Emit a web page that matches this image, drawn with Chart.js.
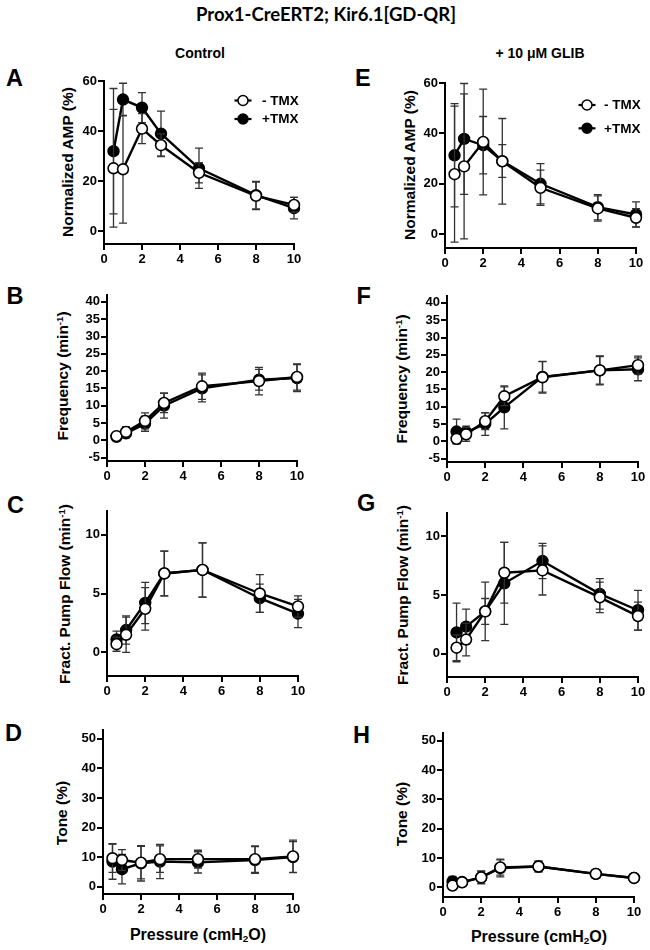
<!DOCTYPE html>
<html>
<head>
<meta charset="utf-8">
<script src="https://cdn.jsdelivr.net/npm/chart.js@4.4.1/dist/chart.umd.min.js"></script>
<style>
  html, body { margin: 0; padding: 0; background: #fff; }
  body { position: relative; width: 650px; height: 950px; overflow: hidden;
         font-family: 'Liberation Sans', Arial, sans-serif; color: #000; }
  canvas { position: absolute; }
  .txt { position: absolute; font-weight: bold; white-space: nowrap; line-height: 1; }
  .ctr { transform: translateX(-50%); }
  .letter { font-size: 23.5px; }
  .yt { position: absolute; font-weight: bold; font-size: 15.5px; white-space: nowrap; line-height: 1;
        transform: translate(-50%, -50%) rotate(-90deg); }
  .xt { position: absolute; font-weight: bold; font-size: 16px; white-space: nowrap; line-height: 1;
        transform: translate(-50%, -50%); }
  sup { font-size: 0.62em; vertical-align: 0.55em; line-height: 0; }
  sub { font-size: 0.62em; vertical-align: -0.25em; line-height: 0; }
</style>
</head>
<body>

<div class="txt ctr" style="left:326px; top:5px; font-family: Lato, 'Open Sans', sans-serif; font-size:18.5px;">Prox1-CreERT2; Kir6.1[GD-QR]</div>
<div class="txt ctr" style="left:200px; top:46px; font-size:14px;">Control</div>
<div class="txt ctr" style="left:540px; top:46px; font-size:14px;">+ 10 μM GLIB</div>

<div class="txt letter" style="left:6px; top:67px;">A</div>
<div class="txt letter" style="left:6.5px; top:285px;">B</div>
<div class="txt letter" style="left:7px; top:494px;">C</div>
<div class="txt letter" style="left:5px; top:722px;">D</div>
<div class="txt letter" style="left:355px; top:67px;">E</div>
<div class="txt letter" style="left:356.5px; top:285px;">F</div>
<div class="txt letter" style="left:357px; top:492px;">G</div>
<div class="txt letter" style="left:353px; top:724px;">H</div>

<div class="yt" style="left:68px; top:162px;">Normalized AMP (%)</div>
<div class="yt" style="left:63px; top:376px;">Frequency (min<sup>-1</sup>)</div>
<div class="yt" style="left:65px; top:594px;">Fract. Pump Flow (min<sup>-1</sup>)</div>
<div class="yt" style="left:62px; top:813px;">Tone (%)</div>
<div class="yt" style="left:410px; top:165px;">Normalized AMP (%)</div>
<div class="yt" style="left:402px; top:379px;">Frequency (min<sup>-1</sup>)</div>
<div class="yt" style="left:403px; top:595px;">Fract. Pump Flow (min<sup>-1</sup>)</div>
<div class="yt" style="left:402px; top:814px;">Tone (%)</div>

<div class="xt" style="left:198px; top:935px;">Pressure (cmH<sub>2</sub>O)</div>
<div class="xt" style="left:539px; top:937px;">Pressure (cmH<sub>2</sub>O)</div>

<script>
/* ── datos (media ± error) ─────────────────────────────────────────── */
const pressure   = [0.5, 1, 2, 3, 5, 8, 10];
const seriesNames = ['- TMX', '+TMX'];

// tick labels
const xTicks    = [0, 2, 4, 6, 8, 10];
const ampTicks  = [0, 20, 40, 60];
const freqTicks = [-5, 0, 5, 10, 15, 20, 25, 30, 35, 40];
const flowTicks = [0, 5, 10];
const toneTicks = [0, 10, 20, 30, 40, 50];

// A: amplitud, control
const ampCtrlNeg    = [25.2, 24.8, 41.0, 34.4, 23.4, 14.2, 10.6];
const ampCtrlNegErr = [23.5, 21.5, 6.0, 4.5, 4.0, 5.5, 3.0];
const ampCtrlPos    = [32.0, 52.6, 49.4, 39.0, 25.2, 14.5, 9.3];
const ampCtrlPosErr = [25.0, 6.5, 6.0, 9.0, 8.0, 5.5, 4.3];

// B: frecuencia, control
const freqCtrlNeg    = [1.2, 2.4, 5.6, 10.8, 15.6, 17.1, 18.3];
const freqCtrlNegErr = [0.6, 1.5, 2.3, 2.8, 3.8, 4.0, 3.8];
const freqCtrlPos    = [1.0, 2.0, 4.8, 10.0, 15.0, 17.5, 18.0];
const freqCtrlPosErr = [0.5, 1.3, 2.2, 3.6, 3.9, 3.0, 3.9];

// C: flujo de bombeo, control
const flowCtrlNeg    = [0.7, 1.5, 3.7, 6.7, 7.0, 5.0, 3.9];
const flowCtrlNegErr = [0.6, 1.5, 1.8, 1.9, 2.3, 1.6, 0.9];
const flowCtrlPos    = [1.1, 1.9, 4.2, 6.7, 7.0, 4.6, 3.3];
const flowCtrlPosErr = [0.7, 1.2, 1.75, 1.9, 2.3, 1.2, 1.2];

// D: tono, control
const toneCtrlNeg    = [9.6, 9.0, 8.1, 9.3, 9.3, 9.3, 10.2];
const toneCtrlNegErr = [4.8, 3.5, 5.5, 4.5, 3.0, 4.5, 5.5];
const toneCtrlPos    = [8.5, 5.9, 7.9, 8.5, 8.2, 9.0, 10.0];
const toneCtrlPosErr = [6.0, 5.0, 6.0, 5.8, 3.6, 4.5, 5.2];

// E: amplitud, GLIB
const ampGlibNeg    = [23.8, 26.9, 36.6, 28.9, 18.4, 10.2, 6.5];
const ampGlibNegErr = [27.0, 28.8, 21.0, 17.0, 7.0, 5.0, 3.6];
const ampGlibPos    = [31.3, 37.8, 35.3, 29.0, 20.0, 10.7, 7.8];
const ampGlibPosErr = [20.5, 22.0, 11.4, 6.5, 8.0, 5.0, 5.0];

// F: frecuencia, GLIB
const freqGlibNeg    = [0.7, 2.0, 5.8, 13.0, 18.5, 20.5, 22.0];
const freqGlibNegErr = [1.3, 2.0, 2.4, 2.7, 4.6, 4.0, 2.6];
const freqGlibPos    = [2.8, 2.6, 5.0, 9.8, 18.6, 20.5, 20.8];
const freqGlibPosErr = [3.6, 1.8, 3.3, 6.2, 4.4, 4.2, 3.3];

// G: flujo de bombeo, GLIB
const flowGlibNeg    = [0.5, 1.2, 3.6, 6.9, 7.1, 4.8, 3.2];
const flowGlibNegErr = [1.1, 1.4, 1.1, 2.6, 2.1, 1.3, 1.2];
const flowGlibPos    = [1.8, 2.3, 3.6, 6.0, 7.9, 5.1, 3.7];
const flowGlibPosErr = [2.5, 1.5, 2.5, 3.5, 1.5, 1.3, 1.7];

// H: tono, GLIB
const toneGlibNeg    = [0.6, 1.7, 3.4, 6.8, 7.1, 4.6, 3.2];
const toneGlibNegErr = [1.0, 1.0, 2.2, 2.6, 1.8, 1.3, 1.0];
const toneGlibPos    = [2.0, 1.8, 3.4, 6.6, 7.1, 4.6, 3.2];
const toneGlibPosErr = [1.7, 1.0, 2.0, 3.0, 1.8, 1.2, 1.0];

/* ── plugins: barras de error y leyenda con símbolo ────────────────── */
const FONT = "'Liberation Sans', Arial, sans-serif";

const errorBars = {
  id: 'errorBars',
  beforeDatasetDraw(chart, args) {
    const ds = chart.data.datasets[args.index];
    if (!ds.errors) return;
    const ctx = chart.ctx, y = chart.scales.y;
    ctx.save();
    ctx.strokeStyle = '#333';
    ctx.lineWidth = 1.3;
    args.meta.data.forEach((pt, i) => {
      const v = ds.data[i].y, e = ds.errors[i];
      const yTop = y.getPixelForValue(v + e), yBot = y.getPixelForValue(v - e);
      ctx.beginPath();
      ctx.moveTo(pt.x, yTop); ctx.lineTo(pt.x, yBot);
      ctx.moveTo(pt.x - 4, yTop); ctx.lineTo(pt.x + 4, yTop);
      ctx.moveTo(pt.x - 4, yBot); ctx.lineTo(pt.x + 4, yBot);
      ctx.stroke();
    });
    ctx.restore();
  }
};

const symLegend = {
  id: 'symLegend',
  afterDatasetsDraw(chart, args, opts) {
    if (!opts || !opts.show) return;
    const { ctx, chartArea } = chart;
    chart.data.datasets.forEach((ds, i) => {
      const cx = chartArea.right - opts.right;
      const cy = chartArea.top + opts.top + i * opts.gap;
      ctx.save();
      ctx.strokeStyle = '#000';
      ctx.lineWidth = 2.2;
      ctx.beginPath(); ctx.moveTo(cx - 8.5, cy); ctx.lineTo(cx + 8.5, cy); ctx.stroke();
      ctx.beginPath(); ctx.arc(cx, cy, 5, 0, Math.PI * 2);
      ctx.fillStyle = ds.pointBackgroundColor; ctx.fill();
      ctx.lineWidth = 1.5; ctx.stroke();
      ctx.fillStyle = '#000';
      ctx.font = 'bold 13.5px ' + FONT;
      ctx.textBaseline = 'middle';
      ctx.fillText(ds.label, cx + opts.textDx, cy + 0.5);
      ctx.restore();
    });
  }
};

function pts(vals) { return pressure.map((p, i) => ({ x: p, y: vals[i] })); }

function series(neg, negErr, pos, posErr) {
  const base = { borderColor: '#000', borderWidth: 2.4, pointRadius: 5.4, pointHoverRadius: 5.4,
                 pointBorderColor: '#000', pointBorderWidth: 1.6, tension: 0, clip: false };
  // '- TMX' primero para que quede encima
  return [
    Object.assign({}, base, { label: seriesNames[0], data: pts(neg), errors: negErr, pointBackgroundColor: '#fff' }),
    Object.assign({}, base, { label: seriesNames[1], data: pts(pos), errors: posErr, pointBackgroundColor: '#000' }),
  ];
}

/* ── paneles: área del gráfico [izq, der, arriba, abajo] en px de página ── */
const PAD_L = 40, PAD_T = 10, PAD_R = 14, PAD_B = 30;

function axisCommon() {
  return {
    grid:   { drawOnChartArea: false, drawTicks: true, tickLength: 6, color: '#000', lineWidth: 2 },
    border: { display: true, color: '#000', width: 2 },
  };
}

function makePanel(p) {
  const [L, R, T, B] = p.area;
  const w = (R - L) + PAD_L + PAD_R, h = (B - T) + PAD_T + PAD_B;
  const cv = document.createElement('canvas');
  cv.width = w; cv.height = h;
  cv.style.left = (L - PAD_L) + 'px'; cv.style.top = (T - PAD_T) + 'px';
  cv.style.width = w + 'px'; cv.style.height = h + 'px';
  document.body.appendChild(cv);

  new Chart(cv.getContext('2d'), {
    type: 'line',
    data: { datasets: p.datasets },
    plugins: [errorBars, symLegend],
    options: {
      responsive: false,
      animation: false,
      devicePixelRatio: 1,
      layout: { padding: { left: 0, top: PAD_T, right: PAD_R, bottom: 0 } },
      plugins: {
        legend: { display: false },
        tooltip: { enabled: false },
        symLegend: p.legend || { show: false },
      },
      scales: {
        x: Object.assign(axisCommon(), {
          type: 'linear', min: 0, max: 10,
          afterBuildTicks: s => { s.ticks = xTicks.map(v => ({ value: v })); },
          afterFit: s => { s.height = PAD_B; },
          ticks: { color: '#000', font: { family: FONT, size: 13, weight: 'bold' },
                   padding: 2, maxRotation: 0, autoSkip: false },
        }),
        y: Object.assign(axisCommon(), {
          type: 'linear', min: p.yRange[0], max: p.yRange[1],
          afterBuildTicks: s => { s.ticks = p.yTicks.map(v => ({ value: v })); },
          afterFit: s => { s.width = PAD_L; },
          ticks: { color: '#000', font: { family: FONT, size: 13, weight: 'bold' },
                   padding: 1, autoSkip: false },
        }),
      },
    },
  });
}

const panels = [
  { area: [104, 294, 81, 244],  yRange: [-5, 60],    yTicks: ampTicks,
    datasets: series(ampCtrlNeg, ampCtrlNegErr, ampCtrlPos, ampCtrlPosErr),
    legend: { show: true, right: 51, top: 19.5, gap: 18.5, textDx: 19 } },
  { area: [107, 297, 295, 461], yRange: [-6, 42],    yTicks: freqTicks,
    datasets: series(freqCtrlNeg, freqCtrlNegErr, freqCtrlPos, freqCtrlPosErr) },
  { area: [107, 298, 511, 676], yRange: [-2, 12],    yTicks: flowTicks,
    datasets: series(flowCtrlNeg, flowCtrlNegErr, flowCtrlPos, flowCtrlPosErr) },
  { area: [103, 293, 730, 894], yRange: [-2.5, 53],  yTicks: toneTicks,
    datasets: series(toneCtrlNeg, toneCtrlNegErr, toneCtrlPos, toneCtrlPosErr) },
  { area: [445, 636, 83, 248],  yRange: [-5.5, 60],  yTicks: ampTicks,
    datasets: series(ampGlibNeg, ampGlibNegErr, ampGlibPos, ampGlibPosErr),
    legend: { show: true, right: 49, top: 22, gap: 23.3, textDx: 17 } },
  { area: [447, 638, 296, 462], yRange: [-6, 42],    yTicks: freqTicks,
    datasets: series(freqGlibNeg, freqGlibNegErr, freqGlibPos, freqGlibPosErr) },
  { area: [447, 638, 513, 677], yRange: [-2, 12],    yTicks: flowTicks,
    datasets: series(flowGlibNeg, flowGlibNegErr, flowGlibPos, flowGlibPosErr) },
  { area: [443, 634, 733, 897], yRange: [-3.3, 52.7], yTicks: toneTicks,
    datasets: series(toneGlibNeg, toneGlibNegErr, toneGlibPos, toneGlibPosErr) },
];

panels.forEach(makePanel);
</script>
</body>
</html>
